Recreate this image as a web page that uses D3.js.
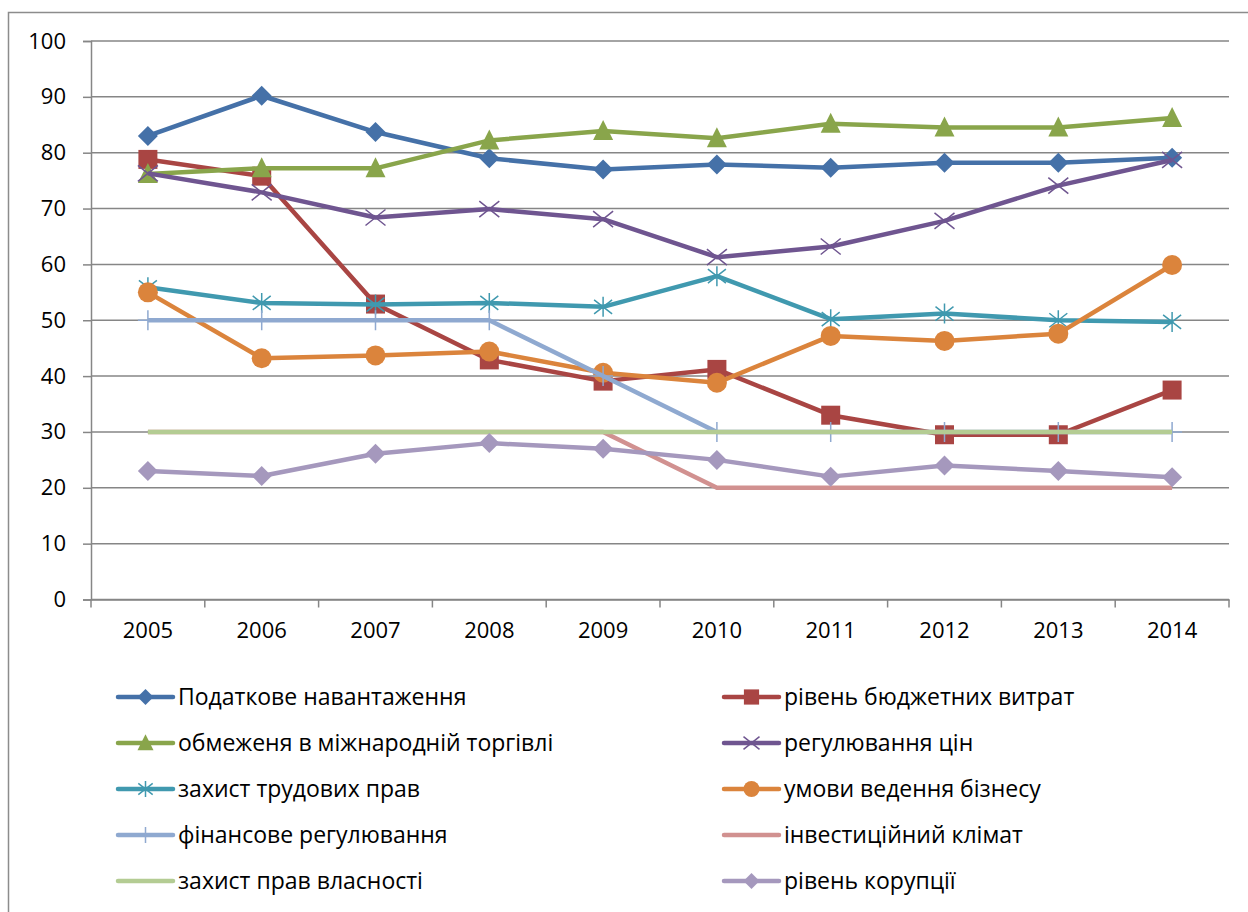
<!DOCTYPE html>
<html>
<head>
<meta charset="utf-8">
<title>Індекси економічної свободи</title>
<script src="https://d3js.org/d3.v7.min.js"></script>
<style>
  body { margin: 0; background: #fff; }
  text { font-family: "Open Sans", "Liberation Sans", sans-serif; fill: #000; }
</style>
</head>
<body>
<div id="chart"></div>
<script>
// categories
var years = ["2005", "2006", "2007", "2008", "2009", "2010", "2011", "2012", "2013", "2014"];
var yTicks = [0, 10, 20, 30, 40, 50, 60, 70, 80, 90, 100];

// series values
var podatkove   = [83.0, 90.2, 83.7, 79.0, 77.0, 77.9, 77.3, 78.2, 78.2, 79.1];
var biudzhet    = [78.8, 75.8, 52.9, 42.9, 39.1, 41.2, 33.0, 29.5, 29.5, 37.5];
var torhivlia   = [76.2, 77.2, 77.2, 82.2, 83.9, 82.6, 85.2, 84.5, 84.5, 86.2];
var tsiny       = [76.3, 72.9, 68.4, 69.9, 68.1, 61.3, 63.2, 67.8, 74.1, 78.7];
var trud        = [55.9, 53.1, 52.8, 53.1, 52.4, 57.9, 50.2, 51.2, 50.0, 49.7];
var biznes      = [55.0, 43.2, 43.7, 44.4, 40.6, 38.8, 47.2, 46.3, 47.6, 59.9];
var finansy     = [50, 50, 50, 50, 40, 30, 30, 30, 30, 30];
var investytsii = [30, 30, 30, 30, 30, 20, 20, 20, 20, 20];
var vlasnist    = [30, 30, 30, 30, 30, 30, 30, 30, 30, 30];
var koruptsiia  = [23.0, 22.1, 26.1, 28.0, 27.0, 25.0, 22.0, 24.0, 23.0, 21.9];

var series = [
  {name: "Податкове навантаження", values: podatkove, color: "#4571a8", marker: "diamond"},
  {name: "рівень бюджетних витрат", values: biudzhet, color: "#a94543", marker: "square"},
  {name: "обмеженя в міжнародній торгівлі", values: torhivlia, color: "#89a54b", marker: "triangle"},
  {name: "регулювання цін", values: tsiny, color: "#6f5590", marker: "x"},
  {name: "захист трудових прав", values: trud, color: "#4099af", marker: "star"},
  {name: "умови ведення бізнесу", values: biznes, color: "#db843c", marker: "circle"},
  {name: "фінансове регулювання", values: finansy, color: "#8fa9d0", marker: "plus"},
  {name: "інвестиційний клімат", values: investytsii, color: "#d19190", marker: "none"},
  {name: "захист прав власності", values: vlasnist, color: "#b4cc93", marker: "none"},
  {name: "рівень корупції", values: koruptsiia, color: "#a598bd", marker: "diamond"}
];

var W = 1248, H = 912;
var margin = {top: 41, left: 91, right: 19, bottom: 312.5};
var width = W - margin.left - margin.right,
    height = H - margin.top - margin.bottom;

var svg = d3.select("#chart").append("svg")
    .attr("width", W).attr("height", H);

// chart area border (runs off the picture on right and bottom)
svg.append("rect")
    .attr("x", 8.5).attr("y", 12.5)
    .attr("width", 1300).attr("height", 1000)
    .attr("fill", "none").attr("stroke", "#8c8c8c").attr("stroke-width", 1.5);

var g = svg.append("g").attr("transform", "translate(" + margin.left + "," + margin.top + ")");

var x = d3.scaleBand().domain(years).range([0, width]);
var y = d3.scaleLinear().domain([0, 100]).range([height, 0]);

// gridlines
g.append("g")
  .selectAll("line")
  .data(yTicks)
  .enter().append("line")
    .attr("x1", 0).attr("x2", width)
    .attr("y1", function(d) { return y(d); })
    .attr("y2", function(d) { return y(d); })
    .attr("stroke", "#868686").attr("stroke-width", 1.5);

// y axis
var yAxis = g.append("g")
    .call(d3.axisLeft(y).tickValues(yTicks).tickSize(8).tickPadding(17));
yAxis.selectAll("line, path").attr("stroke", "#868686").attr("stroke-width", 1.5);
yAxis.selectAll("text").style("font-size", "22px");

// x axis, ticks on category boundaries
var xAxis = g.append("g")
    .attr("transform", "translate(0," + height + ")")
    .call(d3.axisBottom(x).tickSize(0).tickPadding(23));
xAxis.select("path").attr("stroke", "#868686").attr("stroke-width", 1.5);
xAxis.selectAll("text").style("font-size", "22px");
xAxis.selectAll(".bound")
  .data(d3.range(years.length + 1))
  .enter().append("line")
    .attr("class", "bound")
    .attr("x1", function(i) { return i * x.step(); })
    .attr("x2", function(i) { return i * x.step(); })
    .attr("y1", 0).attr("y2", 8)
    .attr("stroke", "#868686").attr("stroke-width", 1.5);

function markerPath(type, s) {
  var p = d3.path();
  if (type === "diamond") {
    p.moveTo(0, -s); p.lineTo(s, 0); p.lineTo(0, s); p.lineTo(-s, 0); p.closePath();
  } else if (type === "square") {
    p.rect(-s * 0.95, -s * 0.95, s * 1.9, s * 1.9);
  } else if (type === "triangle") {
    p.moveTo(0, -s * 1.1); p.lineTo(s, s * 0.9); p.lineTo(-s, s * 0.9); p.closePath();
  } else if (type === "circle") {
    p.arc(0, 0, s, 0, 2 * Math.PI);
  } else if (type === "x") {
    p.moveTo(-s, -s * 0.8); p.lineTo(s, s * 0.8); p.moveTo(-s, s * 0.8); p.lineTo(s, -s * 0.8);
  } else if (type === "star") {
    p.moveTo(-s * 0.9, -s * 0.7); p.lineTo(s * 0.9, s * 0.7);
    p.moveTo(-s * 0.9, s * 0.7); p.lineTo(s * 0.9, -s * 0.7);
    p.moveTo(0, -s); p.lineTo(0, s);
  } else if (type === "plus") {
    p.moveTo(0, -s); p.lineTo(0, s); p.moveTo(-s, 0); p.lineTo(s, 0);
  }
  return p.toString();
}

function drawMarker(sel, type, color, s) {
  var open = (type === "x" || type === "star" || type === "plus");
  sel.append("path")
    .attr("d", markerPath(type, s))
    .attr("fill", open ? "none" : color)
    .attr("stroke", color)
    .attr("stroke-width", open ? 1.5 : 0);
}

var line = d3.line()
    .x(function(d, i) { return x(years[i]) + x.bandwidth() / 2; })
    .y(function(d) { return y(d); });

series.forEach(function(s) {
  var sg = g.append("g");
  sg.append("path")
    .datum(s.values)
    .attr("fill", "none")
    .attr("stroke", s.color)
    .attr("stroke-width", 4.5)
    .attr("stroke-linejoin", "round")
    .attr("d", line);
  if (s.marker !== "none") {
    sg.selectAll(".m")
      .data(s.values)
      .enter().append("g")
        .attr("transform", function(d, i) {
          return "translate(" + (x(years[i]) + x.bandwidth() / 2) + "," + y(d) + ")";
        })
        .each(function() { drawMarker(d3.select(this), s.marker, s.color, 10); });
  }
});

// legend, two columns
var legend = svg.append("g");
var colX = [118, 724];
var rowY = [697, 743, 789, 835, 881];
series.forEach(function(s, i) {
  var lx = colX[i % 2], ly = rowY[Math.floor(i / 2)];
  var lg = legend.append("g").attr("transform", "translate(" + lx + "," + ly + ")");
  lg.append("line")
    .attr("x1", 0).attr("x2", 55)
    .attr("stroke", s.color).attr("stroke-width", 4.5).attr("stroke-linecap", "round");
  if (s.marker !== "none") {
    lg.append("g").attr("transform", "translate(27.5,0)")
      .call(drawMarker, s.marker, s.color, 8);
  }
  lg.append("text")
    .attr("x", 60).attr("dy", "0.36em")
    .style("font-size", "23px")
    .text(s.name);
});
</script>
</body>
</html>
